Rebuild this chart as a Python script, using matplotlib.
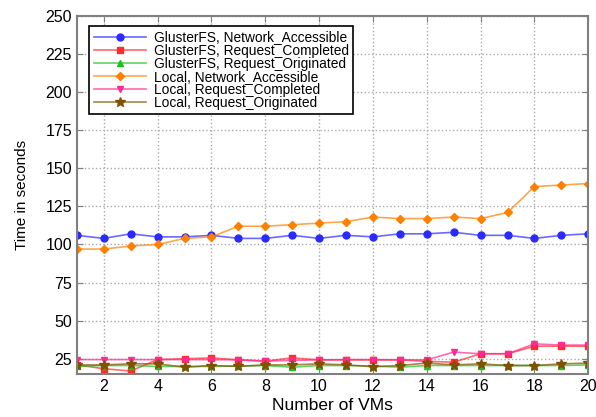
import matplotlib
matplotlib.use("Agg")
import matplotlib.pyplot as plt
from matplotlib.colors import to_rgba

plt.rcParams['font.family'] = ['Liberation Sans', 'DejaVu Sans']

vms = list(range(1, 21))

gluster_net = [106, 104, 107, 105, 105, 106, 104, 104, 106, 104,
               106, 105, 107, 107, 108, 106, 106, 104, 106, 107]
gluster_done = [21, 18.5, 17, 24.5, 25, 25.6, 24.3, 23.5, 25.6, 24.3,
                24.3, 24.3, 24.3, 23.3, 22.8, 28.3, 28.3, 33.3, 33.3, 33.3]
gluster_orig = [20, 20.6, 20.6, 20, 20, 20, 20.3, 20.6, 19.5, 20.6,
                20.6, 20.3, 19.5, 20.6, 20.6, 20.6, 20.6, 20.6, 20.6, 21]
local_net = [97, 97, 99, 100, 104, 105, 112, 112, 113, 114,
             115, 118, 117, 117, 118, 117, 121, 138, 139, 140]
local_done = [24.5, 24.5, 24.5, 24.5, 24.5, 24.5, 24.3, 23.5, 24, 24.3,
              24.5, 24.5, 24.3, 24.3, 29.4, 28.3, 28.3, 34.8, 34, 34]
local_orig = [21, 21, 21.7, 21.7, 19.5, 20.6, 20, 21, 21, 21.7,
              21, 19.8, 20.6, 22.2, 21, 21.7, 20.6, 20.6, 21.7, 22.2]

series = [
    ("GlusterFS, Network_Accessible", gluster_net, "#2a2aff", "o"),
    ("GlusterFS, Request_Completed", gluster_done, "#ff2a2a", "s"),
    ("GlusterFS, Request_Originated", gluster_orig, "#1fbf1f", "^"),
    ("Local, Network_Accessible", local_net, "#ff8000", "D"),
    ("Local, Request_Completed", local_done, "#ff2a95", "v"),
    ("Local, Request_Originated", local_orig, "#7f5200", "*"),
]

fig, ax = plt.subplots(figsize=(5.96, 4.17), dpi=100)
fig.subplots_adjust(left=0.129, right=0.987, top=0.962, bottom=0.103)

for label, vals, col, mk in series:
    ms = 7 if mk == "*" else 5
    if mk == "D":
        ms = 4.5
    ax.plot(vms, vals, color=to_rgba(col, 0.7), marker=mk, markersize=ms,
            mfc=col, mec=col, linewidth=1.2, label=label)

ax.set_xlim(1, 20)
ax.set_ylim(15, 250)
ax.set_xticks(range(2, 21, 2))
ax.set_yticks(range(25, 251, 25))
ax.grid(True, linestyle=":", color="#aaaaaa", linewidth=1)
ax.tick_params(direction="in", top=True, right=True, labelsize=11.5,
               color="#808080", length=4)
for sp in ax.spines.values():
    sp.set_color("#808080")
    sp.set_linewidth(1.5)

ax.set_xlabel("Number of VMs", fontsize=12.5, labelpad=3)
ax.set_ylabel("Time in seconds", fontsize=11, labelpad=12)

leg = ax.legend(loc="upper left", bbox_to_anchor=(0.011, 0.99), fontsize=9.9,
                fancybox=False, framealpha=1, edgecolor="black",
                labelspacing=-0.06, handlelength=3.8, borderpad=0.3,
                handletextpad=0.6)
leg.get_frame().set_linewidth(1.2)

plt.savefig("out.png", dpi=100)
